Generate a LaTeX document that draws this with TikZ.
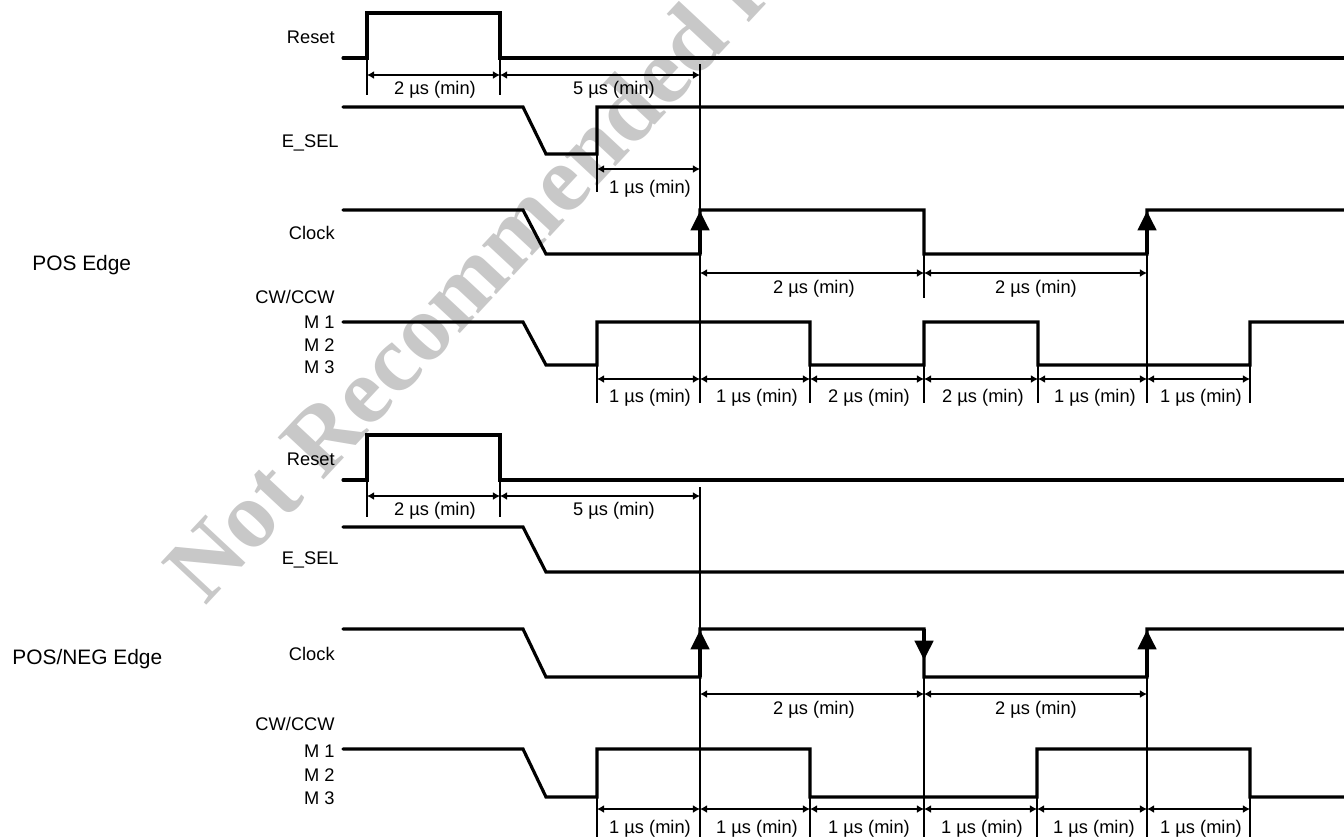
\documentclass[tikz,border=0pt]{standalone}
\usepackage{fontspec}
\setmainfont{Liberation Sans}
\newfontfamily\wmfont{Liberation Serif}
\usetikzlibrary{arrows.meta}
\definecolor{wmgray}{RGB}{200,200,200}
\begin{document}
\begin{tikzpicture}[x=0.02cm,y=-0.02cm,
  sig/.style={line width=1.8pt, line cap=round, line join=miter},
  dim/.style={line width=1.1pt, >={Latex[length=4pt,width=4.5pt]}, <->},
  thinln/.style={line width=0.6pt},
  lbl/.style={font=\fontsize{10.4}{12}\selectfont, inner sep=0pt, anchor=base east},
  dtx/.style={font=\fontsize{10.4}{12}\selectfont, inner sep=0pt, anchor=base},
  grp/.style={font=\fontsize{11.9}{14}\selectfont, inner sep=0pt, anchor=base west},
  edgearrow/.style={line width=1.8pt, -{Triangle[length=11pt,width=10.5pt]}},
]
\useasboundingbox (0,0) rectangle (1344,836);
% watermark
\node[rotate=47, anchor=base west, text=wmgray, inner sep=0pt,
  font=\wmfont\bfseries\fontsize{54}{54}\selectfont] (wm) at (205,607) {Not Recommended for New Design};

% ================= TOP: POS Edge =================
\node[grp] (g1) at (32,270) {POS Edge};
% Reset
\node[lbl] (r1) at (335,43) {Reset};
\draw[sig] (343,58) -- (367,58) -- (367,13) -- (500,13) -- (500,58) -- (1350,58);
\draw[thinln] (367,58) -- (367,95) (500,58) -- (500,95);
\draw[thinln] (700,64) -- (700,403);
\draw[dim] (367,75) -- (500,75);
\draw[dim] (500,75) -- (700,75);
\node[dtx] (r1a) at (435,94) {2 µs (min)};
\node[dtx] (r1b) at (614,94) {5 µs (min)};
% E_SEL
\node[lbl] (e1) at (339,147) {E\_SEL};
\draw[sig] (343,107) -- (523,107) -- (546,154) -- (597,154) -- (597,107) -- (1350,107);
\draw[thinln] (597,154) -- (597,192);
\draw[dim] (597,169) -- (700,169);
\node[dtx] (e1a) at (650,193) {1 µs (min)};
% Clock
\node[lbl] (c1) at (335,239) {Clock};
\draw[sig] (343,210) -- (523,210) -- (546,254) -- (700,254) -- (700,210) -- (924,210) -- (924,254) -- (1147,254) -- (1147,210) -- (1350,210);
\draw[edgearrow] (700,254) -- (700,211);
\draw[edgearrow] (1147,254) -- (1147,211);
\draw[thinln] (924,254) -- (924,298);
\draw[thinln] (1147,254) -- (1147,403);
\draw[dim] (700,273) -- (924,273);
\draw[dim] (924,273) -- (1147,273);
\node[dtx] (c1a) at (814,293) {2 µs (min)};
\node[dtx] (c1b) at (1036,293) {2 µs (min)};
% CW/CCW
\node[lbl] (w1) at (335,303) {CW/CCW};
\node[lbl] (m11) at (335,328) {M 1};
\node[lbl] (m12) at (335,351) {M 2};
\node[lbl] (m13) at (335,373) {M 3};
\draw[sig] (343,322) -- (523,322) -- (546,365) -- (597,365) -- (597,322) -- (810,322) -- (810,365) -- (924,365) -- (924,322) -- (1038,322) -- (1038,365) -- (1250,365) -- (1250,322) -- (1350,322);
\foreach \x in {597,810,924,1038,1250} \draw[thinln] (\x,365) -- (\x,403);
\draw[dim] (597,379) -- (700,379);
\draw[dim] (700,379) -- (810,379);
\draw[dim] (810,379) -- (924,379);
\draw[dim] (924,379) -- (1038,379);
\draw[dim] (1038,379) -- (1147,379);
\draw[dim] (1147,379) -- (1250,379);
\node[dtx] (w1a) at (650,402) {1 µs (min)};
\node[dtx] (w1b) at (757,402) {1 µs (min)};
\node[dtx] (w1c) at (869,402) {2 µs (min)};
\node[dtx] (w1d) at (983,402) {2 µs (min)};
\node[dtx] (w1e) at (1095,402) {1 µs (min)};
\node[dtx] (w1f) at (1201,402) {1 µs (min)};

% ================= BOTTOM: POS/NEG Edge =================
\node[grp] (g2) at (12,664) {POS/NEG Edge};
% Reset
\node[lbl] (r2) at (335,465) {Reset};
\draw[sig] (343,480) -- (367,480) -- (367,435) -- (500,435) -- (500,480) -- (1350,480);
\draw[thinln] (367,480) -- (367,517) (500,480) -- (500,517);
\draw[thinln] (700,487) -- (700,840);
\draw[dim] (367,496) -- (500,496);
\draw[dim] (500,496) -- (700,496);
\node[dtx] (r2a) at (435,515) {2 µs (min)};
\node[dtx] (r2b) at (614,515) {5 µs (min)};
% E_SEL
\node[lbl] (e2) at (339,564) {E\_SEL};
\draw[sig] (343,527) -- (523,527) -- (546,572) -- (1350,572);
% Clock
\node[lbl] (c2) at (335,660) {Clock};
\draw[sig] (343,629) -- (523,629) -- (546,677) -- (700,677) -- (700,629) -- (924,629) -- (924,677) -- (1147,677) -- (1147,629) -- (1350,629);
\draw[edgearrow] (700,677) -- (700,630);
\draw[edgearrow] (924,629) -- (924,660);
\draw[edgearrow] (1147,677) -- (1147,630);
\draw[thinln] (924,677) -- (924,840);
\draw[thinln] (1147,677) -- (1147,840);
\draw[dim] (700,694) -- (924,694);
\draw[dim] (924,694) -- (1147,694);
\node[dtx] (c2a) at (814,714) {2 µs (min)};
\node[dtx] (c2b) at (1036,714) {2 µs (min)};
% CW/CCW
\node[lbl] (w2) at (335,730) {CW/CCW};
\node[lbl] (m21) at (335,757) {M 1};
\node[lbl] (m22) at (335,781) {M 2};
\node[lbl] (m23) at (335,804) {M 3};
\draw[sig] (343,749) -- (523,749) -- (546,797) -- (597,797) -- (597,749) -- (810,749) -- (810,797) -- (1037,797) -- (1037,749) -- (1250,749) -- (1250,797) -- (1350,797);
\foreach \x in {597,810,1037,1250} \draw[thinln] (\x,797) -- (\x,840);
\draw[dim] (597,809) -- (700,809);
\draw[dim] (700,809) -- (810,809);
\draw[dim] (810,809) -- (924,809);
\draw[dim] (924,809) -- (1037,809);
\draw[dim] (1037,809) -- (1147,809);
\draw[dim] (1147,809) -- (1250,809);
\node[dtx] (w2a) at (650,833) {1 µs (min)};
\node[dtx] (w2b) at (757,833) {1 µs (min)};
\node[dtx] (w2c) at (869,833) {1 µs (min)};
\node[dtx] (w2d) at (982,833) {1 µs (min)};
\node[dtx] (w2e) at (1094,833) {1 µs (min)};
\node[dtx] (w2f) at (1201,833) {1 µs (min)};
\end{tikzpicture}
\end{document}
